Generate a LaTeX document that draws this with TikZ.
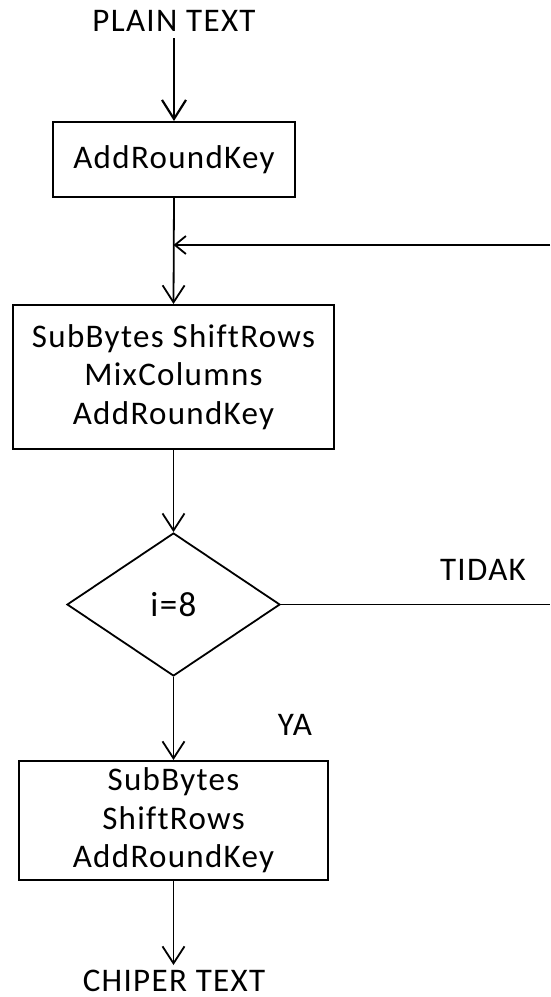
\documentclass[tikz,border=0pt]{standalone}
\usepackage{fontspec}
\setmainfont{Carlito}[LetterSpace=4, Ligatures=CommonOff]
\usetikzlibrary{arrows.meta,shapes.geometric}

\tikzset{
  base/.style={font=\fontsize{33}{38.5}\selectfont, align=center, inner sep=0pt},
  procbox/.style={base, draw, line width=2pt},
  decision/.style={base, draw, diamond, line width=1.8pt, minimum width=213pt, minimum height=143pt, aspect=1.49},
  lbl/.style={base, anchor=base},
  flow/.style={line width=1.8pt, -{Straight Barb[length=17pt,width=22pt,line width=1.8pt]}},
  flowthick/.style={line width=2.4pt, -{Straight Barb[length=19pt,width=24pt,line width=2.2pt]}},
  back/.style={line width=1.8pt, -{Straight Barb[length=11pt,width=18pt,line width=1.8pt]}},
  plain/.style={line width=1.8pt}
}

\begin{document}
\begin{tikzpicture}[x=1pt,y=-1pt]
  \useasboundingbox (0,0) rectangle (550,997);

  % input and output labels
  \node[lbl] (pt) at (174,31) {PLAIN TEXT};
  \node[lbl] (ct) at (174,991) {CHIPER TEXT};

  % initial key addition
  \node[procbox, minimum width=242pt, minimum height=75pt] (ark) at (174,159.5) {AddRoundKey};

  % main round
  \node[procbox, minimum width=321pt, minimum height=144pt] (round) at (173.5,377)
    {SubBytes ShiftRows\\MixColumns\\AddRoundKey};

  % round counter test
  \node[decision] (test) at (173.5,604.5) {\fontsize{35}{40}\selectfont i=8};

  % final round
  \node[procbox, minimum width=309pt, minimum height=119pt] (final) at (173.5,820.5)
    {SubBytes\\ShiftRows\\AddRoundKey};

  % branch labels
  \node[lbl] (no)  at (483,580) {TIDAK};
  \node[lbl] (yes) at (295,735) {YA};

  % loop-back ends at the right margin
  \coordinate (loopout) at (550,604.5);
  \coordinate (loopin)  at (550,245);
  \coordinate (merge)   at (173.5,245);
  \coordinate (inlet)   at (174,38);
  \coordinate (outlet)  at (173.5,965);

  % connectors
  \draw[flowthick] (inlet) -- (ark.north);
  \draw[flow] (ark.south) -- (round.north);
  \draw[back] (loopin) -- (merge);
  \draw[flow] (round.south) -- (test.north);
  \draw[plain] (test.east) -- (loopout);
  \draw[flow] (test.south) -- (final.north);
  \draw[flow] (final.south) -- (outlet);
\end{tikzpicture}
\end{document}
